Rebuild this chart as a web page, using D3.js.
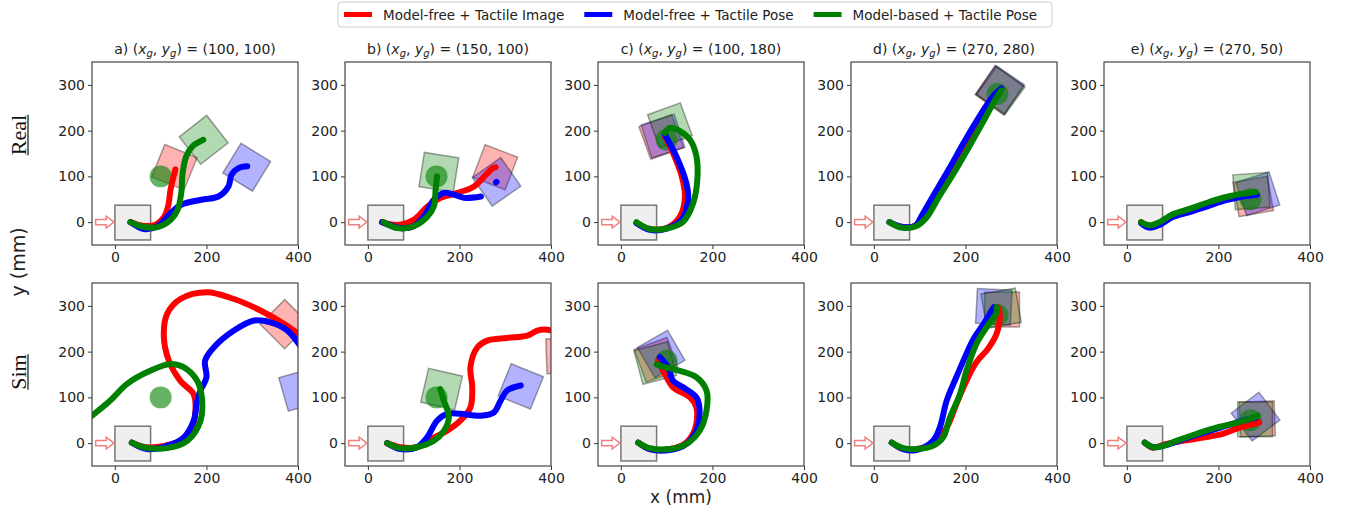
<!DOCTYPE html>
<html>
<head>
<meta charset="utf-8">
<script src="https://cdn.jsdelivr.net/npm/d3@7"></script>
<style>
  body { margin: 0; background: #fff; }
  svg { display: block; font-family: "DejaVu Sans", sans-serif; }
</style>
</head>
<body>
<svg id="chart" width="1348" height="512"></svg>
<script>
'use strict';

// ---- data ----
const panelLabels = ['a', 'b', 'c', 'd', 'e'];
const goals = [[100, 100], [150, 100], [100, 180], [270, 280], [270, 50]];
const rowNames = ['Real', 'Sim'];
const seriesNames = ['Model-free + Tactile Image', 'Model-free + Tactile Pose', 'Model-based + Tactile Pose'];
const seriesColors = ['#ff0000', '#0000ff', '#008000'];
const xTicks = [0, 200, 400];
const yTicks = [0, 100, 200, 300];
const startBox = [[0, -39], [78, 37]];
const pushArrow = [[-42, -6], [-19, -6], [-19, -13], [-2, 0], [-19, 13], [-19, 6], [-42, 6]];
const boxSide = 76;
const goalRadius = 24;

// trajectories, one entry per panel (a..e)
const realRed = [
  [[34, 0], [60, -8], [90, -5], [108, 12], [117, 38], [121, 68], [127, 95], [132, 115]],
  [[31, 0], [64, -6], [100, 5], [130, 34], [159, 53], [196, 64], [232, 78], [258, 104], [272, 117], [279, 120]],
  [[34, -2], [63, -15], [100, -13], [129, 12], [140, 56], [133, 100], [114, 151], [96, 188]],
  [[34, 0], [60, -10], [90, -8], [110, 18], [138, 62], [170, 115], [203, 175], [233, 225], [262, 270], [278, 290]],
  [[31, 0], [49, -10], [71, -4], [100, 13], [137, 24], [180, 38], [217, 50], [253, 57], [282, 60]],
];
const realBlue = [
  [[34, 0], [63, -15], [93, -9], [122, 20], [145, 38], [189, 49], [226, 56], [248, 78], [255, 104], [270, 118], [289, 122]],
  [[31, 0], [71, -13], [100, -9], [122, 12], [144, 49], [166, 64], [188, 60], [210, 53], [247, 56], null, [280, 87], [281, 88]],
  [[34, -2], [63, -17], [100, -14], [132, 5], [147, 49], [143, 85], [121, 144], [96, 191]],
  [[34, 0], [60, -10], [90, -8], [105, 15], [130, 58], [165, 118], [200, 180], [230, 230], [260, 275], [278, 292]],
  [[31, -2], [49, -12], [71, -6], [100, 11], [137, 22], [180, 36], [217, 48], [253, 56], [284, 60]],
];
const realGreen = [
  [[34, 0], [56, -9], [93, -11], [122, 5], [137, 27], [145, 64], [148, 107], [156, 144], [170, 166], [193, 180]],
  [[34, 0], [64, -13], [100, -9], [130, 12], [144, 34], [148, 71], [151, 100]],
  [[34, 0], [63, -15], [100, -14], [136, 1], [158, 42], [167, 93], [165, 144], [151, 180], [129, 199], [107, 206], [96, 195]],
  [[34, 0], [60, -12], [92, -9], [115, 10], [142, 55], [175, 108], [208, 165], [238, 218], [262, 262], [278, 288]],
  [[31, 0], [49, -7], [71, 0], [100, 17], [137, 29], [180, 44], [217, 55], [253, 62], [282, 66]],
];
const simRed = [
  [[37, 1], [70, -9], [107, -6], [143, 5], [169, 34], [176, 71], [172, 107], [143, 136], [118, 180], [107, 231], [114, 282], [143, 315], [201, 330], [260, 315], [318, 290], [369, 261], [410, 232]],
  [[42, 0], [71, -9], [107, -9], [144, 12], [173, 27], [202, 49], [224, 78], [228, 122], [224, 166], [239, 209], [261, 224], [304, 230], [348, 235], [370, 246], [392, 248], [410, 243]],
  [[38, 1], [63, -13], [107, -13], [140, -1], [162, 31], [165, 78], [151, 100], [114, 122], [96, 151], [81, 180]],
  [[39, 1], [64, -13], [93, -13], [129, -2], [159, 34], [180, 85], [202, 136], [224, 177], [249, 206], [268, 239], [275, 282], [271, 297]],
  [[39, 1], [57, -10], [86, -2], [122, 5], [166, 12], [209, 20], [246, 34], [289, 45]],
];
const simBlue = [
  [[37, 1], [70, -13], [114, -6], [150, 12], [172, 49], [180, 93], [187, 115], [200, 144], [197, 180], [216, 209], [260, 246], [304, 268], [340, 264], [377, 246], [410, 205]],
  [[42, 0], [71, -13], [107, -9], [129, 12], [151, 49], [173, 64], [202, 64], [246, 60], [275, 67], [290, 93], [304, 115], [334, 126]],
  [[38, 1], [63, -13], [107, -15], [143, -2], [165, 27], [172, 71], [165, 100], [136, 122], [114, 136], [103, 166], [85, 188]],
  [[39, 1], [64, -13], [93, -15], [129, 5], [144, 34], [159, 93], [180, 144], [199, 188], [218, 228], [240, 261], [262, 297]],
  [[39, 1], [57, -9], [79, -6], [108, 3], [151, 18], [195, 31], [239, 45], [282, 56]],
];
const simGreen = [
  [[37, 1], [63, -9], [114, -11], [158, 5], [187, 49], [190, 100], [180, 136], [150, 166], [121, 173], [77, 158], [26, 129], [-10, 93], [-60, 52]],
  [[42, 0], [71, -11], [107, -9], [144, 5], [166, 27], [177, 56], [166, 93], [158, 118]],
  [[38, 1], [63, -11], [107, -13], [143, -2], [172, 27], [187, 71], [187, 115], [165, 144], [129, 158], [96, 166], [78, 172]],
  [[39, 1], [64, -11], [93, -13], [129, -6], [151, 12], [166, 56], [188, 107], [202, 158], [224, 217], [246, 253], [268, 286], [268, 297]],
  [[39, 1], [57, -9], [79, -6], [108, 5], [151, 20], [195, 34], [231, 42], [268, 53], [286, 60]],
];

// final object poses [x, y, angle deg] per panel, in series order red, blue, green
const realBoxes = [
  [[130, 120, -22], [288, 120, -31.5], [194, 180, -52]],
  [[278, 120, -21], [281, 88, 35], [155, 109, -9]],
  [[88, 186, 20], [92, 188, 18], [107, 212, 20]],
  [[274, 288, 55], [276, 290, 56], [277, 287, 54]],
  [[276, 56, 10], [286, 62, 18], [272, 68, 4]],
];
const simBoxes = [
  [[371, 260, 45], [405, 117, 16], null],
  [[428, 191, 2], [334, 124, -22], [161, 118, -13]],
  [[78, 182, 20], [88, 195, 30], [75, 175, 15]],
  [[280, 292, 0], [262, 298, -3], [278, 295, 10]],
  [[285, 53, 2], [281, 58, 37], [280, 52, 0]],
];

const rows = [
  { traj: [realRed, realBlue, realGreen], boxes: realBoxes },
  { traj: [simRed, simBlue, simGreen], boxes: simBoxes },
];

// ---- layout ----
const panelLeft = 92;
const panelStep = 253;
const panelW = 206;
const panelH = 183;
const rowTops = [62, 283];
const rowLabelY = [135, 372];

const svg = d3.select('#chart');

const x = d3.scaleLinear().domain([-50, 400]).range([0, panelW]);
const y = d3.scaleLinear().domain([-50, 350]).range([panelH, 0]);

const line = d3.line()
  .defined((d) => d !== null)
  .x((d) => x(d[0]))
  .y((d) => y(d[1]))
  .curve(d3.curveCatmullRom.alpha(0.5));

const defs = svg.append('defs');
defs.append('clipPath')
  .attr('id', 'plotClip')
  .append('rect')
  .attr('width', panelW)
  .attr('height', panelH);

const boxPx = x(boxSide) - x(0);

rows.forEach((row, r) => {
  panelLabels.forEach((label, p) => {
    const g = svg.append('g')
      .attr('transform', `translate(${panelLeft + p * panelStep},${rowTops[r]})`);

    const plot = g.append('g').attr('clip-path', 'url(#plotClip)');

    // start block and push arrow
    plot.append('rect')
      .attr('x', x(startBox[0][0]))
      .attr('y', y(startBox[1][1]))
      .attr('width', x(startBox[1][0]) - x(startBox[0][0]))
      .attr('height', y(startBox[0][1]) - y(startBox[1][1]))
      .attr('fill', '#efefef')
      .attr('stroke', '#777')
      .attr('stroke-width', 1.5);

    plot.append('path')
      .attr('d', d3.line().x((d) => x(d[0])).y((d) => y(d[1]))(pushArrow) + 'Z')
      .attr('fill', '#fff')
      .attr('stroke', '#f08080')
      .attr('stroke-width', 1.5);

    // final object poses
    row.boxes[p].forEach((b, s) => {
      if (!b) return;
      plot.append('rect')
        .attr('x', -boxPx / 2)
        .attr('y', -boxPx / 2)
        .attr('width', boxPx)
        .attr('height', boxPx)
        .attr('transform', `translate(${x(b[0])},${y(b[1])}) rotate(${-b[2]})`)
        .attr('fill', seriesColors[s])
        .attr('fill-opacity', 0.3)
        .attr('stroke', '#000')
        .attr('stroke-opacity', 0.35)
        .attr('stroke-width', 1.5);
    });

    // goal
    plot.append('circle')
      .attr('cx', x(goals[p][0]))
      .attr('cy', y(goals[p][1]))
      .attr('r', x(goalRadius) - x(0))
      .attr('fill', '#008000')
      .attr('fill-opacity', 0.6);

    // trajectories
    row.traj.forEach((series, s) => {
      plot.append('path')
        .attr('d', line(series[p]))
        .attr('fill', 'none')
        .attr('stroke', seriesColors[s])
        .attr('stroke-width', 6)
        .attr('stroke-linecap', 'round')
        .attr('stroke-linejoin', 'round');
    });

    // axes
    const yAxis = g.append('g').call(d3.axisLeft(y).tickValues(yTicks).tickSize(4).tickPadding(3));
    const xAxis = g.append('g')
      .attr('transform', `translate(0,${panelH})`)
      .call(d3.axisBottom(x).tickValues(xTicks).tickSize(4).tickPadding(3));
    [xAxis, yAxis].forEach((ax) => {
      ax.select('.domain').remove();
      ax.selectAll('line').attr('stroke', '#333');
      ax.selectAll('text')
        .attr('fill', '#222')
        .style('font-size', '14px')
        .style('font-family', '"DejaVu Sans", sans-serif');
    });

    g.append('rect')
      .attr('width', panelW)
      .attr('height', panelH)
      .attr('fill', 'none')
      .attr('stroke', '#444')
      .attr('stroke-width', 1.2);

    // panel title on the top row
    if (r === 0) {
      const t = g.append('text')
        .attr('x', panelW / 2)
        .attr('y', -8)
        .attr('text-anchor', 'middle')
        .attr('fill', '#222')
        .style('font-size', '14px');
      t.append('tspan').text(`${label}) (`);
      t.append('tspan').attr('font-style', 'italic').text('x');
      t.append('tspan').attr('font-style', 'italic').attr('font-size', '10px').attr('dy', 3).text('g');
      t.append('tspan').attr('dy', -3).text(', ');
      t.append('tspan').attr('font-style', 'italic').text('y');
      t.append('tspan').attr('font-style', 'italic').attr('font-size', '10px').attr('dy', 3).text('g');
      t.append('tspan').attr('dy', -3).text(`) = (${goals[p][0]}, ${goals[p][1]})`);
    }
  });
});

// row labels
rowNames.forEach((name, r) => {
  const cy = rowLabelY[r];
  const txt = svg.append('text')
    .attr('transform', `translate(26,${cy}) rotate(-90)`)
    .attr('text-anchor', 'middle')
    .attr('fill', '#111')
    .style('font-family', '"Liberation Serif", serif')
    .style('font-size', '22px')
    .text(name);
  const w = txt.node().getComputedTextLength();
  svg.append('line')
    .attr('x1', 28).attr('x2', 28)
    .attr('y1', cy - w / 2).attr('y2', cy + w / 2)
    .attr('stroke', '#111')
    .attr('stroke-width', 1.2);
});

// axis labels
svg.append('text')
  .attr('transform', 'translate(25,262) rotate(-90)')
  .attr('text-anchor', 'middle')
  .attr('fill', '#222')
  .style('font-size', '19px')
  .text('y (mm)');
svg.append('text')
  .attr('x', 681)
  .attr('y', 503)
  .attr('text-anchor', 'middle')
  .attr('fill', '#222')
  .style('font-size', '17px')
  .text('x (mm)');

// legend
const legend = svg.append('g').attr('transform', 'translate(338,2)');
legend.append('rect')
  .attr('width', 714)
  .attr('height', 25)
  .attr('rx', 3)
  .attr('fill', '#fff')
  .attr('stroke', '#ccc');
let lx = 6;
seriesNames.forEach((name, s) => {
  legend.append('line')
    .attr('x1', lx).attr('x2', lx + 28)
    .attr('y1', 12.5).attr('y2', 12.5)
    .attr('stroke', seriesColors[s])
    .attr('stroke-width', 5);
  const t = legend.append('text')
    .attr('x', lx + 39)
    .attr('y', 17.5)
    .attr('fill', '#222')
    .style('font-size', '13.5px')
    .text(name);
  lx += 39 + t.node().getComputedTextLength() + 20;
});
</script>
</body>
</html>
